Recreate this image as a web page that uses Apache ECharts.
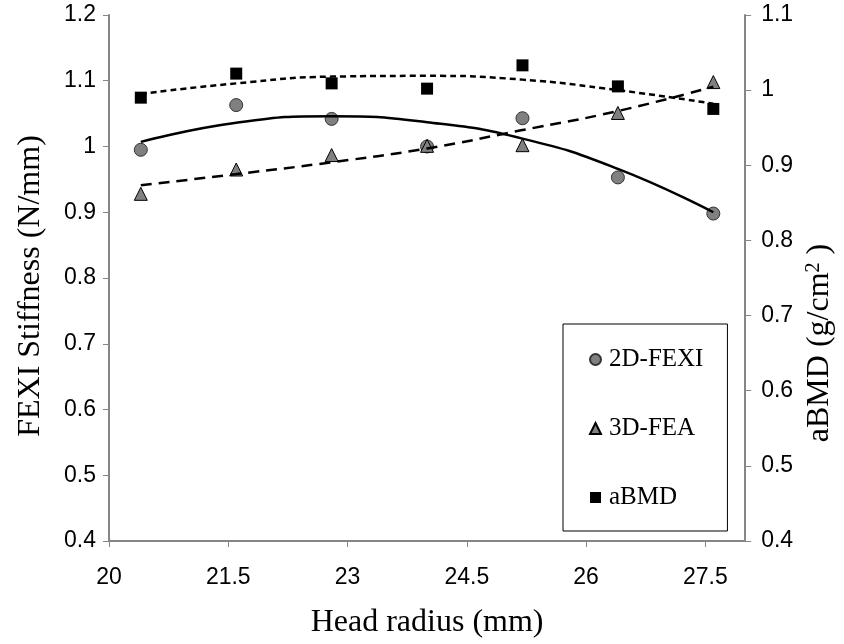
<!DOCTYPE html>
<html>
<head>
<meta charset="utf-8">
<script src="https://cdn.jsdelivr.net/npm/echarts@6/dist/echarts.min.js"></script>
<style>
  html, body { margin: 0; padding: 0; background: #fff; }
  #chart { width: 844px; height: 644px; }
</style>
</head>
<body>
<div id="chart"></div>
<script>
// head radius (mm)
var radius = [20.4, 21.6, 22.8, 24.0, 25.2, 26.4, 27.6];
// stiffness, left axis
var fexi2d = [0.995, 1.063, 1.042, 1.000, 1.043, 0.953, 0.898];
var fea3d = [0.928, 0.965, 0.987, 1.001, 1.002, 1.051, 1.098];
// aBMD, right axis
var abmd = [0.990, 1.022, 1.009, 1.002, 1.033, 1.005, 0.975];
// trendlines
var fexi2dTrend = [1.007, 1.036, 1.046, 1.037, 1.012, 0.966, 0.900];
var fea3dTrend = [0.941, 0.958, 0.976, 0.997, 1.025, 1.054, 1.091];
var abmdTrend = [0.995, 1.009, 1.018, 1.019, 1.014, 1.000, 0.982];

var legendNames = ['2D-FEXI', '3D-FEA', 'aBMD'];

function pairs(xs, ys) {
  return xs.map(function (x, i) { return [x, ys[i]]; });
}

var axisColor = '#868686';
var serif = '"Liberation Serif", "Times New Roman", serif';
var sans = '"Liberation Sans", Arial, sans-serif';

var myChart = echarts.init(document.getElementById('chart'));

var option = {
  backgroundColor: '#fff',
  animation: false,
  grid: {
    left: 109,
    right: 92,
    top: 15,
    bottom: 99,
    containLabel: false
  },
  legend: {
    data: legendNames,
    orient: 'vertical',
    left: 563,
    top: 324,
    padding: [23, 24, 21, 26],
    itemGap: 44,
    itemWidth: 11,
    itemHeight: 11,
    borderColor: '#000',
    borderWidth: 1,
    borderRadius: 0,
    backgroundColor: '#fff',
    textStyle: {
      fontFamily: serif,
      fontSize: 25,
      color: '#000',
      padding: [0, 0, 0, 3]
    }
  },
  xAxis: {
    type: 'value',
    min: 20,
    max: 28,
    interval: 1.5,
    name: 'Head radius (mm)',
    nameLocation: 'middle',
    nameGap: 66,
    nameTextStyle: {
      fontFamily: serif,
      fontSize: 32,
      color: '#000'
    },
    axisLine: { lineStyle: { color: axisColor, width: 2 } },
    axisTick: { show: true, length: 6, lineStyle: { color: axisColor, width: 1 } },
    axisLabel: {
      margin: 25,
      color: '#000',
      fontFamily: sans,
      fontSize: 23,
      showMaxLabel: false,
      formatter: function (v) { return v >= 28 ? '' : String(v); }
    },
    splitLine: { show: false }
  },
  yAxis: [
    {
      type: 'value',
      min: 0.4,
      max: 1.2,
      interval: 0.1,
      position: 'left',
      name: 'FEXI Stiffness (N/mm)',
      nameLocation: 'middle',
      nameGap: 62,
      nameTextStyle: {
        fontFamily: serif,
        fontSize: 32,
        color: '#000',
        padding: [0, 16, 0, 0]
      },
      axisLine: { show: true, lineStyle: { color: axisColor, width: 2 } },
      axisTick: { show: true, length: 6, lineStyle: { color: axisColor, width: 1 } },
      axisLabel: {
        margin: 13,
        color: '#000',
        fontFamily: sans,
        fontSize: 23
      },
      splitLine: { show: false }
    },
    {
      type: 'value',
      min: 0.4,
      max: 1.1,
      interval: 0.1,
      position: 'right',
      name: '{t|aBMD (g/cm}{s|2}{t| )}',
      nameLocation: 'middle',
      nameGap: 58,
      nameTextStyle: {
        color: '#000',
        padding: [0, 130, 0, 0],
        rich: {
          t: { fontFamily: serif, fontSize: 32, lineHeight: 32, color: '#000' },
          s: { fontFamily: serif, fontSize: 20, lineHeight: 20, verticalAlign: 'top', color: '#000' }
        }
      },
      axisLine: { show: true, lineStyle: { color: axisColor, width: 2 } },
      axisTick: { show: true, length: 6, lineStyle: { color: axisColor, width: 1 } },
      axisLabel: {
        margin: 16,
        color: '#000',
        fontFamily: sans,
        fontSize: 23
      },
      splitLine: { show: false }
    }
  ],
  series: [
    {
      name: '2D-FEXI',
      type: 'scatter',
      yAxisIndex: 0,
      data: pairs(radius, fexi2d),
      symbol: 'circle',
      symbolSize: 13,
      itemStyle: { color: '#808080', borderColor: '#333', borderWidth: 1, opacity: 1 },
      z: 2
    },
    {
      name: '3D-FEA',
      type: 'scatter',
      yAxisIndex: 0,
      data: pairs(radius, fea3d),
      symbol: 'triangle',
      symbolSize: 13,
      itemStyle: { color: '#808080', borderColor: '#000', borderWidth: 1, opacity: 1 },
      z: 2
    },
    {
      name: 'aBMD',
      type: 'scatter',
      yAxisIndex: 1,
      data: pairs(radius, abmd),
      symbol: 'rect',
      symbolSize: 12,
      itemStyle: { color: '#000', opacity: 1 },
      z: 2
    },
    {
      name: '2D-FEXI trend',
      type: 'line',
      yAxisIndex: 0,
      data: pairs(radius, fexi2dTrend),
      smooth: true,
      showSymbol: false,
      lineStyle: { color: '#000', width: 2.5, type: 'solid' },
      z: 3
    },
    {
      name: '3D-FEA trend',
      type: 'line',
      yAxisIndex: 0,
      data: pairs(radius, fea3dTrend),
      smooth: true,
      showSymbol: false,
      lineStyle: { color: '#000', width: 2.5, type: [11, 7] },
      z: 3
    },
    {
      name: 'aBMD trend',
      type: 'line',
      yAxisIndex: 1,
      data: pairs(radius, abmdTrend),
      smooth: true,
      showSymbol: false,
      lineStyle: { color: '#000', width: 2.5, type: [6, 4] },
      z: 3
    }
  ]
};

myChart.setOption(option);
window.addEventListener('resize', function () {
  myChart.resize();
});
</script>
</body>
</html>
